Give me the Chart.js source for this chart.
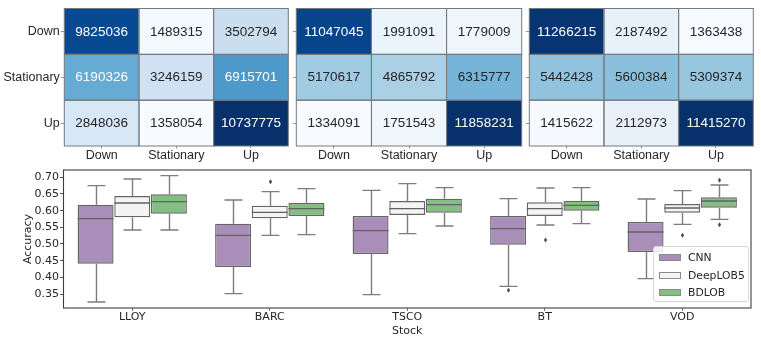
<!DOCTYPE html>
<html>
<head>
<meta charset="utf-8">
<script src="https://cdn.jsdelivr.net/npm/chart.js@4.4.1/dist/chart.umd.min.js"></script>
<style>
  html, body { margin: 0; padding: 0; background: #fff; }
  #wrap { position: relative; width: 761px; height: 346px; overflow: hidden; background: #fff; }
  canvas { position: absolute; left: 0; }
  #legend { position: absolute; left: 653px; top: 246px; width: 96px; height: 56px;
    border: 1px solid #d6d6d6; border-radius: 3px; background: rgba(255,255,255,0.85);
    font: 10.8px "DejaVu Sans", sans-serif; color: #262626; box-sizing: border-box; }
  .lg { position: absolute; left: 0; height: 14px; line-height: 14px; }
  .lg span.p { position: absolute; left: 5px; top: 3px; width: 22px; height: 7px; border: 1px solid #8a8a8a; box-sizing: border-box; }
  .lg span.t { position: absolute; left: 34px; top: 0; white-space: nowrap; }
</style>
</head>
<body>
<div id="wrap">
  <canvas id="h1" width="761" height="165" style="top:0"></canvas>
  <canvas id="h2" width="761" height="165" style="top:0"></canvas>
  <canvas id="h3" width="761" height="165" style="top:0"></canvas>
  <canvas id="bx" width="761" height="186" style="top:160px"></canvas>
  <div id="legend"></div>
</div>
<script>
// ---------------- DATA ----------------
const classLabels = ['Down', 'Stationary', 'Up'];

const confusion1 = [
  [9825036, 1489315, 3502794],
  [6190326, 3246159, 6915701],
  [2848036, 1358054, 10737775]
];
const confusion2 = [
  [11047045, 1991091, 1779009],
  [5170617, 4865792, 6315777],
  [1334091, 1751543, 11858231]
];
const confusion3 = [
  [11266215, 2187492, 1363438],
  [5442428, 5600384, 5309374],
  [1415622, 2112973, 11415270]
];

const stocks = ['LLOY', 'BARC', 'TSCO', 'BT', 'VOD'];
const modelNames = ['CNN', 'DeepLOB5', 'BDLOB'];

// [whiskerLow, q1, median, q3, whiskerHigh] per stock
const cnnStats = [
  [0.326, 0.441, 0.576, 0.618, 0.675],
  [0.351, 0.431, 0.526, 0.561, 0.632],
  [0.348, 0.470, 0.540, 0.584, 0.661],
  [0.373, 0.498, 0.546, 0.584, 0.636],
  [0.396, 0.476, 0.536, 0.566, 0.635]
];
const deepLobStats = [
  [0.542, 0.580, 0.623, 0.644, 0.695],
  [0.526, 0.577, 0.595, 0.615, 0.657],
  [0.531, 0.587, 0.606, 0.629, 0.681],
  [0.557, 0.584, 0.606, 0.625, 0.668],
  [0.559, 0.594, 0.608, 0.620, 0.660]
];
const bdlobStats = [
  [0.542, 0.591, 0.627, 0.649, 0.705],
  [0.528, 0.584, 0.606, 0.624, 0.666],
  [0.554, 0.594, 0.618, 0.636, 0.669],
  [0.561, 0.600, 0.616, 0.630, 0.669],
  [0.574, 0.609, 0.629, 0.640, 0.677]
];
const cnnOutliers = [[], [], [], [0.361], []];
const deepLobOutliers = [[], [0.687], [], [0.512], [0.526]];
const bdlobOutliers = [[], [], [], [], [0.691, 0.558]];

const yTickValues = [0.35, 0.40, 0.45, 0.50, 0.55, 0.60, 0.65, 0.70];

// ---------------- STYLE ----------------
const modelColors = ['#a98eb9', '#f4f4f4', '#83bf82'];
const BLUES = ['#f7fbff','#deebf7','#c6dbef','#9ecae1','#6baed6','#4292c6','#2171b5','#08519c','#08306b'];
const TXT = '#262626';

function hex2rgb(h) { return [parseInt(h.substr(1,2),16), parseInt(h.substr(3,2),16), parseInt(h.substr(5,2),16)]; }
function blues(t) {
  t = Math.max(0, Math.min(1, t));
  const pos = t * (BLUES.length - 1);
  const i = Math.min(Math.floor(pos), BLUES.length - 2);
  const f = pos - i;
  const a = hex2rgb(BLUES[i]), b = hex2rgb(BLUES[i + 1]);
  const c = a.map((v, k) => Math.round(v + (b[k] - v) * f));
  return 'rgb(' + c.join(',') + ')';
}

// ---------------- HEATMAPS ----------------
const cellPlugin = {
  id: 'cells',
  afterDatasetsDraw(chart) {
    const ctx = chart.ctx;
    ctx.save();
    chart.data.datasets.forEach((ds, di) => {
      const meta = chart.getDatasetMeta(di);
      meta.data.forEach((bar, i) => {
        const left = bar.x - bar.width / 2, right = bar.x + bar.width / 2;
        const top = Math.min(bar.y, bar.base), bottom = Math.max(bar.y, bar.base);
        ctx.strokeStyle = '#737a80';
        ctx.lineWidth = 1;
        ctx.strokeRect(left, top, right - left, bottom - top);
        ctx.fillStyle = ds.textColors[i];
        ctx.font = '13.5px "Liberation Sans", Arial, sans-serif';
        ctx.textAlign = 'center';
        ctx.textBaseline = 'middle';
        ctx.fillText(String(ds.counts[i]), bar.x, (top + bottom) / 2 + 0.5);
      });
    });
    ctx.restore();
  }
};

function heatChart(id, matrix, areaLeft, areaRight, showRowLabels) {
  const n = classLabels.length;
  const vals = matrix.flat();
  const mn = Math.min(...vals), mx = Math.max(...vals);
  const yW = showRowLabels ? areaLeft : 6;
  const datasets = matrix.map((row, r) => ({
    label: classLabels[r],
    data: row.map(() => [n - r - 1, n - r]),
    counts: row,
    backgroundColor: row.map(v => blues((v - mn) / (mx - mn))),
    textColors: row.map(v => ((v - mn) / (mx - mn) > 0.5 ? '#ffffff' : TXT)),
    borderWidth: 0,
    grouped: false,
    categoryPercentage: 1,
    barPercentage: 1
  }));
  return new Chart(document.getElementById(id), {
    type: 'bar',
    data: { labels: classLabels, datasets },
    options: {
      responsive: false, animation: false, events: [],
      layout: { padding: { left: areaLeft - yW, right: 761 - areaRight, top: 8, bottom: 0 } },
      plugins: { legend: { display: false }, tooltip: { enabled: false } },
      scales: {
        x: {
          grid: { display: true, offset: false, drawOnChartArea: false, drawTicks: true, tickLength: 2.5, color: '#9a9a9a' },
          border: { display: false },
          ticks: { font: { family: '"Liberation Sans", Arial, sans-serif', size: 12.5 }, color: TXT, padding: 0, maxRotation: 0 },
          afterFit(s) { s.height = 19; }
        },
        y: {
          min: 0, max: n,
          afterBuildTicks(s) { s.ticks = [0.5, 1.5, 2.5].map(v => ({ value: v })); },
          grid: { display: true, drawOnChartArea: false, drawTicks: true, tickLength: 3.5, color: '#9a9a9a' },
          border: { display: false },
          ticks: {
            font: { family: '"Liberation Sans", Arial, sans-serif', size: 12.5 }, color: TXT, padding: 1,
            callback: (v) => showRowLabels ? classLabels[n - 1 - Math.floor(v)] : ''
          },
          afterFit(s) { s.width = yW; }
        }
      }
    },
    plugins: [cellPlugin]
  });
}

heatChart('h1', confusion1, 64.3, 288.3, true);
heatChart('h2', confusion2, 296.3, 521.7, false);
heatChart('h3', confusion3, 529.3, 753.3, false);

// ---------------- BOX PLOT ----------------
const statsByModel = [cnnStats, deepLobStats, bdlobStats];
const outliersByModel = [cnnOutliers, deepLobOutliers, bdlobOutliers];

const boxPlugin = {
  id: 'boxes',
  afterDatasetsDraw(chart) {
    const ctx = chart.ctx, ys = chart.scales.y;
    ctx.save();
    chart.data.datasets.forEach((ds, di) => {
      const meta = chart.getDatasetMeta(di);
      meta.data.forEach((bar, i) => {
        const s = ds.stats[i];
        const cx = Math.round(bar.x) + 0.5, hw = bar.width / 2;
        const pLo = ys.getPixelForValue(s[0]), pQ1 = ys.getPixelForValue(s[1]);
        const pMed = ys.getPixelForValue(s[2]), pQ3 = ys.getPixelForValue(s[3]);
        const pHi = ys.getPixelForValue(s[4]);
        ctx.strokeStyle = '#7c7c7c';
        ctx.lineWidth = 1.4;
        ctx.beginPath();
        ctx.moveTo(cx, pQ1); ctx.lineTo(cx, pLo);
        ctx.moveTo(cx, pQ3); ctx.lineTo(cx, pHi);
        ctx.moveTo(cx - hw / 2, pLo); ctx.lineTo(cx + hw / 2, pLo);
        ctx.moveTo(cx - hw / 2, pHi); ctx.lineTo(cx + hw / 2, pHi);
        ctx.stroke();
        ctx.strokeStyle = '#626262';
        ctx.beginPath();
        ctx.moveTo(bar.x - hw, pMed); ctx.lineTo(bar.x + hw, pMed);
        ctx.stroke();
        ctx.fillStyle = '#4a4a4a';
        ds.outliers[i].forEach(v => {
          const py = ys.getPixelForValue(v);
          ctx.beginPath();
          ctx.moveTo(cx, py - 2.5); ctx.lineTo(cx + 1.6, py);
          ctx.lineTo(cx, py + 2.5); ctx.lineTo(cx - 1.6, py);
          ctx.closePath(); ctx.fill();
        });
      });
    });
    const a = chart.chartArea;
    ctx.strokeStyle = '#3c3c3c';
    ctx.lineWidth = 1.1;
    ctx.strokeRect(a.left, a.top, a.right - a.left, a.bottom - a.top);
    ctx.restore();
  }
};

new Chart(document.getElementById('bx'), {
  type: 'bar',
  data: {
    labels: stocks,
    datasets: modelNames.map((name, m) => ({
      label: name,
      data: statsByModel[m].map(s => [s[1], s[3]]),
      stats: statsByModel[m],
      outliers: outliersByModel[m],
      backgroundColor: modelColors[m],
      borderColor: '#666666',
      borderWidth: 1.4,
      borderSkipped: false,
      categoryPercentage: 0.8,
      barPercentage: 0.98
    }))
  },
  options: {
    responsive: false, animation: false, events: [],
    layout: { padding: { left: 0, right: 10, top: 10, bottom: 0 } },
    plugins: { legend: { display: false }, tooltip: { enabled: false } },
    scales: {
      x: {
        grid: { display: true, offset: false, drawOnChartArea: false, drawTicks: true, tickLength: 3, color: '#777' },
        border: { display: false },
        ticks: { font: { family: '"DejaVu Sans", sans-serif', size: 11 }, color: TXT, padding: 0, maxRotation: 0 },
        title: { display: true, text: 'Stock', font: { family: '"DejaVu Sans", sans-serif', size: 11 }, color: TXT, padding: { top: 0, bottom: 8 } },
        afterFit(s) { s.height = 38; }
      },
      y: {
        min: 0.308, max: 0.722,
        afterBuildTicks(s) { s.ticks = yTickValues.map(v => ({ value: v })); },
        grid: { display: true, drawOnChartArea: false, drawTicks: true, tickLength: 3.5, color: '#555' },
        border: { display: false },
        ticks: { font: { family: '"DejaVu Sans", sans-serif', size: 11 }, color: TXT, padding: 1,
          callback: v => Number(v).toFixed(2) },
        title: { display: true, text: 'Accuracy', font: { family: '"DejaVu Sans", sans-serif', size: 11 }, color: TXT, padding: { top: 22, bottom: 0 } },
        afterFit(s) { s.width = 63.5; }
      }
    }
  },
  plugins: [boxPlugin]
});

// ---------------- LEGEND ----------------
const lg = document.getElementById('legend');
modelNames.forEach((name, m) => {
  const row = document.createElement('div');
  row.className = 'lg';
  row.style.top = (4 + m * 17.5) + 'px';
  row.innerHTML = '<span class="p" style="background:' + modelColors[m] + '"></span><span class="t">' + name + '</span>';
  lg.appendChild(row);
});
</script>
</body>
</html>
